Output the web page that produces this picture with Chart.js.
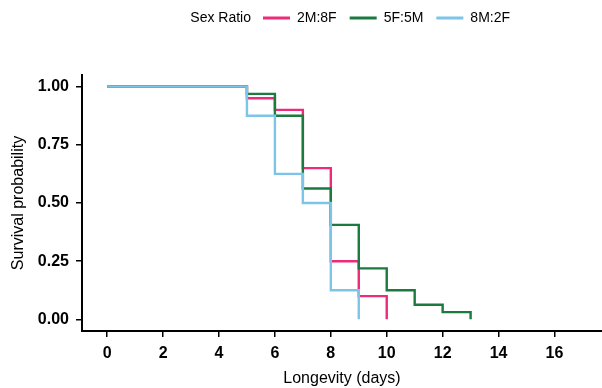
<!DOCTYPE html>
<html><head><meta charset="utf-8">
<script src="https://cdn.jsdelivr.net/npm/chart.js@4.4.1/dist/chart.umd.min.js"></script>
<style>html,body{margin:0;padding:0;background:#fff}canvas{display:block}</style>
</head><body>
<canvas id="c" width="602" height="388"></canvas>
<script>
// ---- data ----
const seriesLabels = ['2M:8F', '5F:5M', '8M:2F'];
const legendTitle = 'Sex Ratio';
const days_2M8F = [0, 5, 6, 7, 8, 9, 10];
const surv_2M8F = [1.00, 0.95, 0.90, 0.65, 0.25, 0.10, 0.00];
const days_5F5M = [0, 5, 6, 7, 8, 9, 10, 11, 12, 13];
const surv_5F5M = [1.00, 0.969, 0.875, 0.5625, 0.406, 0.219, 0.125, 0.0625, 0.031, 0.00];
const days_8M2F = [0, 5, 6, 7, 8, 9];
const surv_8M2F = [1.00, 0.875, 0.625, 0.50, 0.125, 0.00];
const xTicks = [0, 2, 4, 6, 8, 10, 12, 14, 16];
const yTicks = [0, 0.25, 0.50, 0.75, 1.00];
const xTitle = 'Longevity (days)';
const yTitle = 'Survival probability';

const colors = ['#EE2A7B', '#1B7A3E', '#7CC5E8'];
const FONT = '"Liberation Sans", Arial, Helvetica, sans-serif';

function pts(xs, ys) { return xs.map((x, i) => ({ x: x, y: ys[i] })); }

const legendTweak = {
  id: 'legendTweak',
  beforeLayout(chart) {
    const lg = chart.legend;
    if (lg && !lg._patched) {
      const fit = lg.fit.bind(lg);
      lg.fit = function () { fit(); this.height = 75; };
      lg._patched = true;
    }
  },
  afterLayout(chart) {
    const lg = chart.legend;
    const pad = lg.options.labels.padding;
    const w = lg.right - lg.left;
    lg.left = 263 - pad;
    lg.right = lg.left + w;
    lg.top -= 2; lg.bottom -= 2;
  },
  afterDraw(chart) {
    const hb = chart.legend.legendHitBoxes[0];
    if (!hb) return;
    const ctx = chart.ctx;
    ctx.save();
    ctx.font = '14px ' + FONT;
    ctx.fillStyle = '#000';
    ctx.textAlign = 'right';
    ctx.textBaseline = 'middle';
    ctx.fillText(legendTitle, hb.left - 12, hb.top + hb.height / 2);
    ctx.restore();
  }
};

const datasets = [
  { label: seriesLabels[0], data: pts(days_2M8F, surv_2M8F), borderColor: colors[0], order: 2 },
  { label: seriesLabels[1], data: pts(days_5F5M, surv_5F5M), borderColor: colors[1], order: 1 },
  { label: seriesLabels[2], data: pts(days_8M2F, surv_8M2F), borderColor: colors[2], order: 0 }
].map(d => Object.assign(d, {
  backgroundColor: d.borderColor, borderWidth: 2.4, stepped: 'before',
  pointRadius: 0, fill: false, tension: 0, borderCapStyle: 'butt', borderJoinStyle: 'miter'
}));

new Chart(document.getElementById('c'), {
  type: 'line',
  data: { datasets: datasets },
  plugins: [legendTweak],
  options: {
    responsive: false, animation: false, devicePixelRatio: 1,
    layout: { padding: 0 },
    plugins: {
      tooltip: { enabled: false },
      legend: {
        display: true, position: 'top', align: 'start',
        labels: {
          usePointStyle: true, pointStyle: 'line', pointStyleWidth: 27, boxHeight: 14,
          padding: 13, color: '#000', font: { family: FONT, size: 14 },
          generateLabels: chart => chart.data.datasets.map((d, i) => ({
            text: d.label, strokeStyle: d.borderColor, fillStyle: d.borderColor,
            lineWidth: 3, pointStyle: 'line', datasetIndex: i, hidden: false, fontColor: '#000'
          }))
        }
      }
    },
    scales: {
      x: {
        type: 'linear', min: -0.9, max: 17.7,
        afterFit: s => { s.height = 57; },
        afterBuildTicks: s => { s.ticks = xTicks.map(v => ({ value: v })); },
        ticks: { color: '#000', font: { family: FONT, size: 16, weight: 'bold' }, padding: 7, maxRotation: 0,
                 callback: v => String(v) },
        grid: { display: true, drawOnChartArea: false, drawTicks: true, tickLength: 6, color: '#000', lineWidth: 1.5 },
        border: { display: true, color: '#000', width: 2 },
        title: { display: true, text: xTitle, color: '#000', font: { family: FONT, size: 16 }, padding: { top: 0, bottom: 0 } }
      },
      y: {
        type: 'linear', min: -0.05, max: 1.05,
        afterFit: s => { s.width = 82; },
        afterBuildTicks: s => { s.ticks = yTicks.map(v => ({ value: v })); },
        ticks: { color: '#000', font: { family: FONT, size: 16, weight: 'bold' }, padding: 7,
                 callback: v => Number(v).toFixed(2) },
        grid: { display: true, drawOnChartArea: false, drawTicks: true, tickLength: 6, color: '#000', lineWidth: 1.5 },
        border: { display: true, color: '#000', width: 2 },
        title: { display: true, text: yTitle, color: '#000', font: { family: FONT, size: 16 }, padding: { top: 9, bottom: 0 } }
      }
    }
  }
});
</script>
</body></html>
